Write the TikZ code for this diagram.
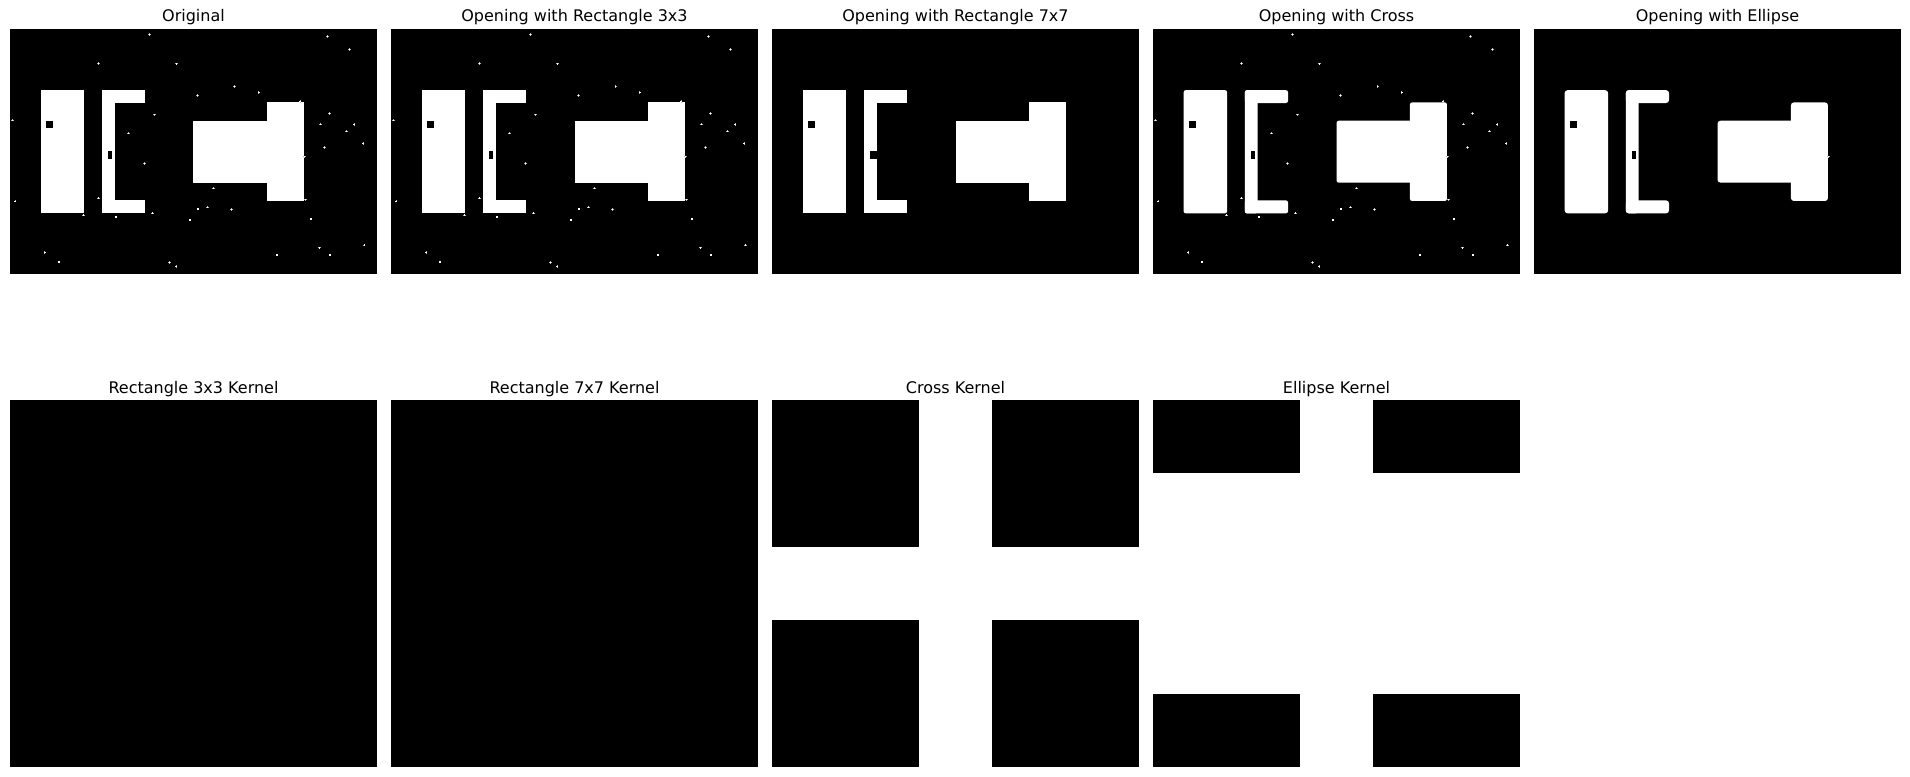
\documentclass[tikz,border=0pt]{standalone}
\usepackage{fontspec}
\setmainfont{DejaVu Sans}
% image content of the binary test picture, in image pixels (300 x 200)
\newcommand\imgshapes[1]{%
  \fill[white,#1] (25,50) rectangle (60.6,150.7);
  \fill[white,#1] (75,50) rectangle (85.6,150.7);
  \fill[white,#1] (75,50) rectangle (110.4,60.5);
  \fill[white,#1] (75,140.1) rectangle (110.4,150.7);
  \fill[white,#1] (150,75) rectangle (240.3,125.6);
  \fill[white,#1] (210,60) rectangle (240.3,140.6);
  \fill[black] (29.8,74.8) rectangle (35.4,80.6);
}
\newcommand\smallhole{\fill[black] (80,99.8) rectangle (83,106);}
\newcommand\onedot[2]{%
  \fill[white!70!black] (#1-1.0,#2-0.4) rectangle (#1+1.0,#2+0.4);
  \fill[white!70!black] (#1-0.4,#2-1.0) rectangle (#1+0.4,#2+1.0);
  \fill[white] (#1-0.5,#2-0.5) rectangle (#1+0.5,#2+0.5);}
\newcommand\noisedots{%
  \foreach \px/\py in {114/4.4,259.4/6,277.4/16.6,72.5/28.1,136/28.6,183.7/47.1,
    203.5/51.8,153.1/54.2,237.1/59.1,261/69.1,1.9/74.6,118/70.2,253.7/77.8,
    281.2/78.1,275.2/83.5,96.7/85.2,288.6/93.6,257/96.9,110.1/109.9,240.9/104.5,
    166.2/130.1,4.1/140.7,72.5/138.2,241.4/139.6,60.2/152.1,86.6/153.7,
    116.6/150.5,153.7/147.2,161.3/145.6,181.2/147.5,147.1/156.2,246/155.4,
    253.1/179,289.6/176.6,28.6/182.6,40.1/190.5,130.5/191,135.7/194,
    218.3/184.8,261.6/184.8}{\onedot{\px}{\py}}}
\begin{document}
\begin{tikzpicture}[x=1pt,y=-1pt,
  paneltitle/.style={anchor=base,inner sep=0pt,font=\fontsize{16}{19}\selectfont},
  imgpanel/.style={fill=black},
  kernelblock/.style={fill=black}]
\useasboundingbox[fill=white] (0,0) rectangle (1910,776);

% ---------- top row: images ----------
% Original
\fill[imgpanel] (10,29) rectangle (377,274);
\begin{scope}[shift={(10,29)},scale=1.2233]
  \imgshapes{sharp corners}\smallhole\noisedots
\end{scope}
\node[paneltitle] (t1) at (193.5,22) {Original};

% Opening with Rectangle 3x3
\fill[imgpanel] (391,29) rectangle (758,274);
\begin{scope}[shift={(391,29)},scale=1.2233]
  \imgshapes{sharp corners}\smallhole\noisedots
\end{scope}
\node[paneltitle] (t2) at (574.5,22) {Opening with Rectangle 3x3};

% Opening with Rectangle 7x7
\fill[imgpanel] (772,29) rectangle (1139,274);
\begin{scope}[shift={(772,29)},scale=1.2233]
  \imgshapes{sharp corners}
  \fill[black] (80,99.8) rectangle (85.7,106);
\end{scope}
\node[paneltitle] (t3) at (955.5,22) {Opening with Rectangle 7x7};

% Opening with Cross
\fill[imgpanel] (1153,29) rectangle (1520,274);
\begin{scope}[shift={(1153,29)},scale=1.2233]
  \imgshapes{rounded corners=2.2pt}\smallhole\noisedots
\end{scope}
\node[paneltitle] (t4) at (1336.5,22) {Opening with Cross};

% Opening with Ellipse
\fill[imgpanel] (1534,29) rectangle (1901,274);
\begin{scope}[shift={(1534,29)},scale=1.2233]
  \imgshapes{rounded corners=3pt}\smallhole
  \onedot{240.9}{104.5}
\end{scope}
\node[paneltitle] (t5) at (1717.5,22) {Opening with Ellipse};

% ---------- bottom row: kernels ----------
\fill[kernelblock] (10,400) rectangle (377,767);
\node[paneltitle] (t6) at (193.5,393) {Rectangle 3x3 Kernel};

\fill[kernelblock] (391,400) rectangle (758,767);
\node[paneltitle] (t7) at (574.5,393) {Rectangle 7x7 Kernel};

% Cross 5x5
\fill[kernelblock] (772,400) rectangle (918.8,546.8);
\fill[kernelblock] (992.2,400) rectangle (1139,546.8);
\fill[kernelblock] (772,620.2) rectangle (918.8,767);
\fill[kernelblock] (992.2,620.2) rectangle (1139,767);
\node[paneltitle] (t8) at (955.5,393) {Cross Kernel};

% Ellipse 5x5
\fill[kernelblock] (1153,400) rectangle (1299.8,473.4);
\fill[kernelblock] (1373.2,400) rectangle (1520,473.4);
\fill[kernelblock] (1153,693.6) rectangle (1299.8,767);
\fill[kernelblock] (1373.2,693.6) rectangle (1520,767);
\node[paneltitle] (t9) at (1336.5,393) {Ellipse Kernel};
\end{tikzpicture}
\end{document}
